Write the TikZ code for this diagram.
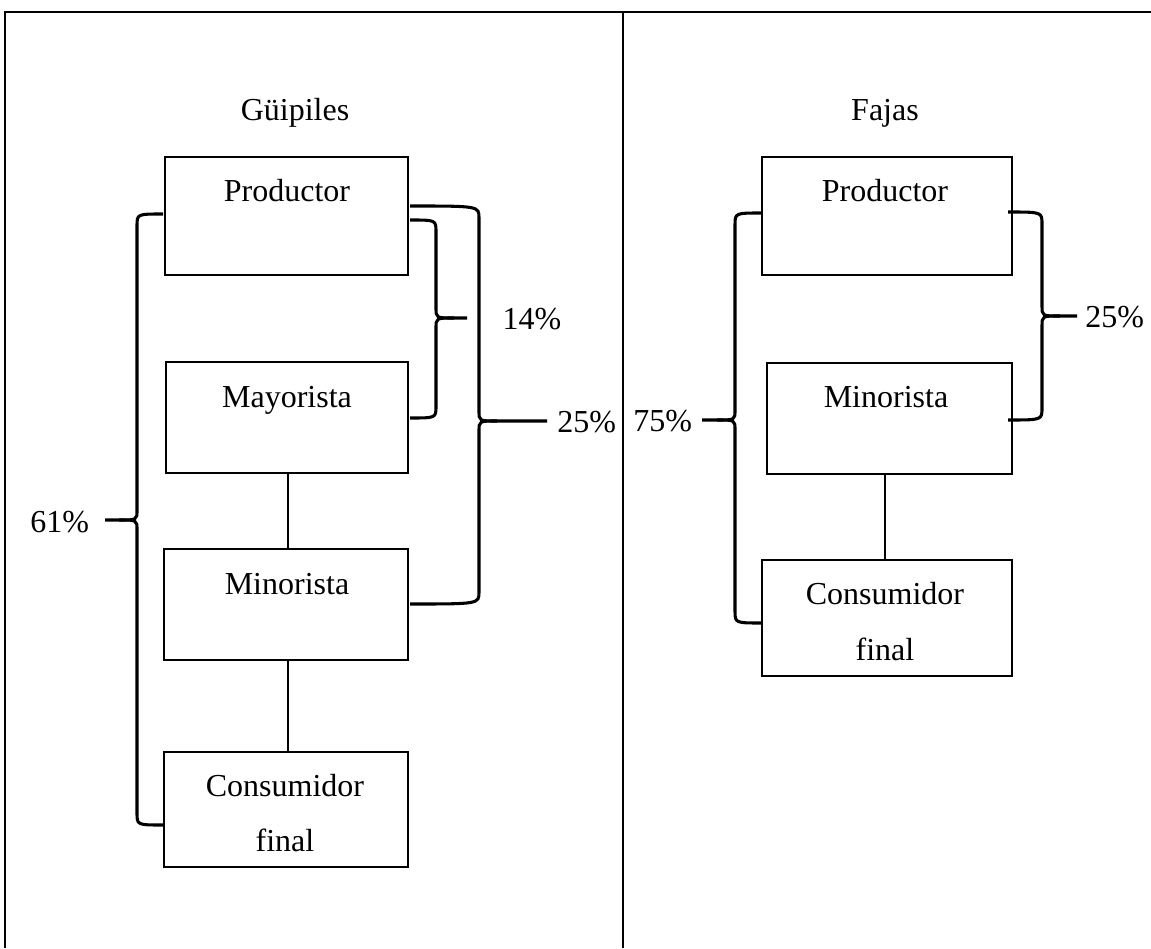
\documentclass[tikz,border=0pt]{standalone}
\usepackage{fontspec}
\setmainfont{Liberation Serif}
\newcommand{\rbrc}[6]{% ex vx tx y1 ym y2
  \draw[bracestyle] (#1,#4) .. controls (#2,#4) .. (#2,#4+12) -- (#2,#5-10)
     .. controls (#2,#5) .. (#2+18,#5) -- (#3,#5);
  \draw[bracestyle] (#2+18,#5) .. controls (#2,#5) .. (#2,#5+10) -- (#2,#6-12)
     .. controls (#2,#6) .. (#1,#6);}
\newcommand{\lbrc}[6]{% ex vx tx y1 ym y2
  \draw[bracestyle] (#1,#4) .. controls (#2,#4) .. (#2,#4+12) -- (#2,#5-10)
     .. controls (#2,#5) .. (#2-18,#5) -- (#3,#5);
  \draw[bracestyle] (#2-18,#5) .. controls (#2,#5) .. (#2,#5+10) -- (#2,#6-12)
     .. controls (#2,#6) .. (#1,#6);}
\begin{document}
\begin{tikzpicture}[x=0.75pt,y=-0.75pt,
  txt/.style={font=\fontsize{24}{28}\selectfont,anchor=base,inner sep=0pt},
  bracestyle/.style={line width=2.3pt},
  grid/.style={line width=1.4pt},
  ln/.style={line width=2pt}]
\useasboundingbox (0,0) rectangle (1151,948);
% table
\draw[grid] (5,948) -- (5,12) -- (1151,12);
\draw[grid] (623,12) -- (623,948);
% titles
\node[txt] (tg) at (295,121) {Güipiles};
\node[txt] (tf) at (885,121) {Fajas};
% left boxes
\draw[ln] (165,157) rectangle (408,275);
\draw[ln] (166,362) rectangle (408,473);
\draw[ln] (164,549) rectangle (408,660);
\draw[ln] (164,752) rectangle (408,867);
\node[txt] (lpt) at (287,202) {Productor};
\node[txt] (lmt) at (287,407) {Mayorista};
\node[txt] (lnt) at (287,594) {Minorista};
\node[txt] (lct) at (285,796) {Consumidor};
\node[txt] (lft) at (285,851) {final};
\coordinate (lmb) at (288,473);
\coordinate (lnt2) at (288,549);
\coordinate (lnb) at (288,660);
\coordinate (lctop) at (288,752);
\draw[ln] (lmb) -- (lnt2);
\draw[ln] (lnb) -- (lctop);
% right boxes
\draw[ln] (762,157) rectangle (1012,275);
\draw[ln] (767,363) rectangle (1012,474);
\draw[ln] (762,560) rectangle (1012,676);
\node[txt] (rpt) at (885,202) {Productor};
\node[txt] (rnt) at (886,407) {Minorista};
\node[txt] (rct) at (885,604) {Consumidor};
\node[txt] (rft) at (885,660) {final};
\coordinate (rnb) at (885,474);
\coordinate (rctop) at (885,560);
\draw[ln] (rnb) -- (rctop);
% braces
\rbrc{410}{436}{467}{220}{318}{418}
\rbrc{410}{479}{547}{206}{421}{604}
\lbrc{163}{137}{105}{214}{520}{825}
\lbrc{762}{735}{702}{213}{420}{623}
\rbrc{1008}{1042}{1077}{212}{316}{420}
% labels
\node[txt] (p14) at (532,329) {14\%};
\node[txt,anchor=base west] (p25a) at (557,432) {25\%};
\node[txt,anchor=base west] (p61) at (30,532) {61\%};
\node[txt,anchor=base west] (p75) at (633,431) {75\%};
\node[txt,anchor=base west] (p25b) at (1085,327) {25\%};
\end{tikzpicture}
\end{document}
